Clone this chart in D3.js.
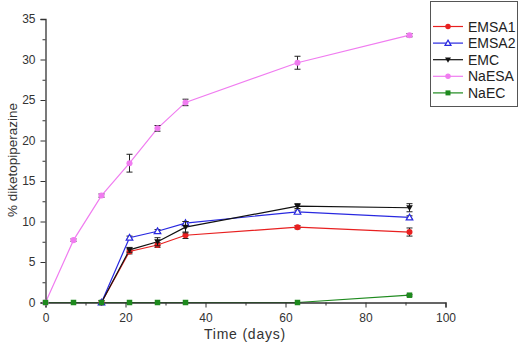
<!DOCTYPE html>
<html>
<head>
<meta charset="utf-8">
<script src="https://cdn.jsdelivr.net/npm/d3@7"></script>
<style>
  body { margin: 0; background: #fff; }
  svg { display: block; font-family: "Liberation Sans", Arial, sans-serif; }
</style>
</head>
<body>
<div id="chart"></div>
<script>
// days sampled
const days = [0, 7, 14, 21, 28, 35, 63, 91];
const daysLate = [14, 21, 28, 35, 63, 91];

// % diketopiperazine per formulation
const emsa1 = [0, 6.3, 7.1, 8.3, 9.3, 8.7];
const emsa1Err = [0, 0.3, 0.3, 0.4, 0.2, 0.5];
const emsa2 = [0, 8.0, 8.8, 9.8, 11.2, 10.5];
const emsa2Err = [0, 0.2, 0.2, 0.2, 0.2, 0.2];
const emc = [0, 6.5, 7.5, 9.3, 11.9, 11.7];
const emcErr = [0, 0.3, 0.5, 0.7, 0.3, 0.5];
const naesa = [0, 7.7, 13.2, 17.2, 21.5, 24.7, 29.6, 33.0];
const naesaErr = [0, 0.15, 0.2, 1.1, 0.35, 0.4, 0.8, 0.2];
const naec = [0, 0, 0, 0, 0, 0, 0, 0.9];
const naecErr = [0, 0, 0, 0, 0, 0, 0, 0.1];

const xTicks = [0, 20, 40, 60, 80, 100];
const yTicks = [0, 5, 10, 15, 20, 25, 30, 35];

const series = [
  { name: "EMSA1", x: daysLate, y: emsa1, err: emsa1Err, color: "#e82020", shape: "circle" },
  { name: "EMSA2", x: daysLate, y: emsa2, err: emsa2Err, color: "#2828e0", shape: "triangle" },
  { name: "EMC", x: daysLate, y: emc, err: emcErr, color: "#111111", shape: "down" },
  { name: "NaESA", x: days, y: naesa, err: naesaErr, color: "#f07cf0", shape: "circle" },
  { name: "NaEC", x: days, y: naec, err: naecErr, color: "#1e8a1e", shape: "square" }
];

const width = 520, height = 344;
const svg = d3.select("#chart").append("svg")
  .attr("width", width)
  .attr("height", height);

const x = d3.scaleLinear().domain([0, 100]).range([45.5, 445.5]);
const y = d3.scaleLinear().domain([0, 35]).range([302.5, 19]);

// layers: lines under the axes, markers on top
const linesLayer = svg.append("g");
const axesLayer = svg.append("g");
const marksLayer = svg.append("g");

// axes
axesLayer.append("g")
  .attr("transform", `translate(0,${y(0)})`)
  .call(d3.axisBottom(x).tickValues(xTicks).tickSize(5).tickPadding(6));
axesLayer.append("g")
  .attr("transform", `translate(0,${y(0)})`)
  .call(d3.axisBottom(x).tickValues([10, 30, 50, 70, 90]).tickSize(3).tickFormat(""))
  .select(".domain").remove();

axesLayer.append("g")
  .attr("transform", `translate(${x(0)},0)`)
  .call(d3.axisLeft(y).tickValues(yTicks).tickSize(5).tickPadding(5));
axesLayer.append("g")
  .attr("transform", `translate(${x(0)},0)`)
  .call(d3.axisLeft(y).tickValues(d3.range(2.5, 35, 5)).tickSize(3).tickFormat(""))
  .select(".domain").remove();

axesLayer.selectAll(".domain").attr("stroke", "#333").attr("stroke-width", 1.3);
axesLayer.selectAll(".tick line").attr("stroke", "#333");
axesLayer.selectAll(".tick text").attr("font-size", 12).attr("fill", "#333")
  .attr("font-family", "Liberation Sans, Arial, sans-serif");

// axis titles
svg.append("text")
  .attr("x", 245).attr("y", 339)
  .attr("text-anchor", "middle")
  .attr("font-size", 14)
  .attr("letter-spacing", 0.8)
  .attr("fill", "#333")
  .text("Time (days)");

svg.append("text")
  .attr("transform", "translate(17,160) rotate(-90)")
  .attr("text-anchor", "middle")
  .attr("font-size", 13.5)
  .attr("fill", "#333")
  .text("% diketopiperazine");

function drawMarker(g, shape, color, cx, cy, s) {
  if (shape === "circle") {
    g.append("circle").attr("cx", cx).attr("cy", cy).attr("r", s * 0.55).attr("fill", color);
  } else if (shape === "square") {
    g.append("rect").attr("x", cx - s / 2).attr("y", cy - s / 2)
      .attr("width", s).attr("height", s).attr("fill", color);
  } else if (shape === "triangle") {
    g.append("path")
      .attr("d", `M${cx},${cy - s * 0.6}L${cx + s * 0.6},${cy + s * 0.45}L${cx - s * 0.6},${cy + s * 0.45}Z`)
      .attr("fill", "#fff").attr("stroke", color).attr("stroke-width", 1.2);
  } else if (shape === "down") {
    g.append("path")
      .attr("d", `M${cx},${cy + s * 0.6}L${cx + s * 0.6},${cy - s * 0.45}L${cx - s * 0.6},${cy - s * 0.45}Z`)
      .attr("fill", color);
  }
}

const line = d3.line().x(d => x(d[0])).y(d => y(d[1]));

series.forEach(s => {
  const pts = s.x.map((d, i) => [d, s.y[i], s.err[i]]);
  linesLayer.append("path")
    .attr("d", line(pts))
    .attr("fill", "none")
    .attr("stroke", s.color)
    .attr("stroke-width", 1.2);

  const g = marksLayer.append("g");
  // error bars
  pts.forEach(p => {
    if (p[2] <= 0) return;
    const cx = x(p[0]);
    const y1 = y(p[1] + p[2]), y2 = y(p[1] - p[2]);
    g.append("line").attr("x1", cx).attr("x2", cx).attr("y1", y1).attr("y2", y2)
      .attr("stroke", "#222").attr("stroke-width", 1);
    [y1, y2].forEach(yy => g.append("line")
      .attr("x1", cx - 3).attr("x2", cx + 3).attr("y1", yy).attr("y2", yy)
      .attr("stroke", "#222").attr("stroke-width", 1));
  });

  pts.forEach(p => drawMarker(g, s.shape, s.color, x(p[0]), y(p[1]), 5.5));
});

// legend
const legend = svg.append("g");
legend.append("rect")
  .attr("x", 430.5).attr("y", 1.5)
  .attr("width", 87).attr("height", 105)
  .attr("fill", "#fff").attr("stroke", "#555").attr("stroke-width", 1);

series.forEach((s, i) => {
  const ly = 26.5 + i * 16.6;
  legend.append("line")
    .attr("x1", 433).attr("x2", 463).attr("y1", ly).attr("y2", ly)
    .attr("stroke", s.color).attr("stroke-width", 1.2);
  drawMarker(legend, s.shape, s.color, 448, ly, 5);
  legend.append("text")
    .attr("x", 468).attr("y", ly + 5)
    .attr("font-size", 14)
    .attr("fill", "#222")
    .text(s.name);
});
</script>
</body>
</html>
